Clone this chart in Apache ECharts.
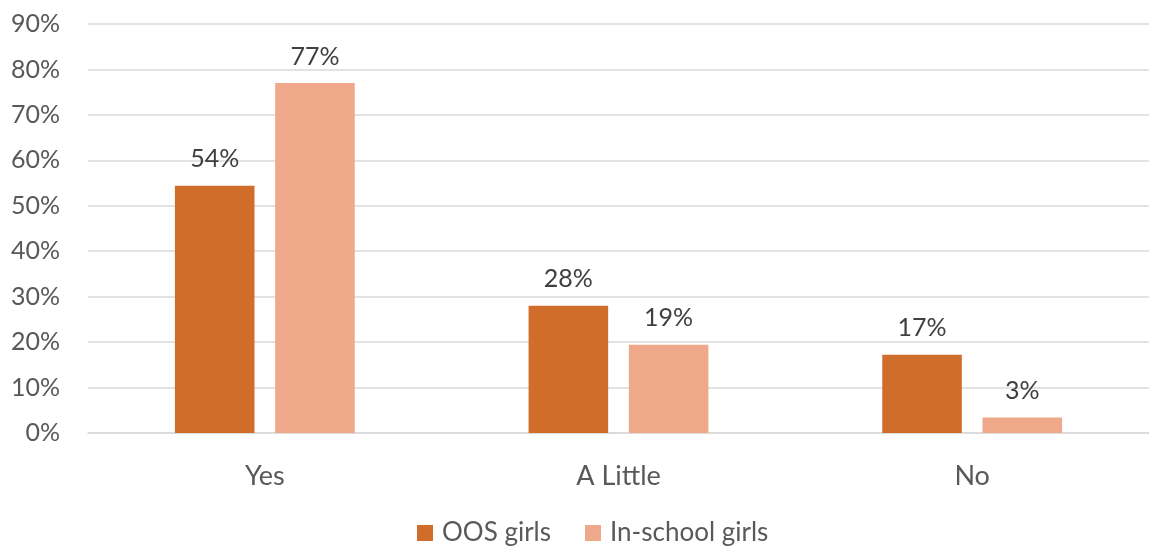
<!DOCTYPE html>
<html>
<head>
<meta charset="utf-8">
<script src="https://cdn.jsdelivr.net/npm/echarts@6/dist/echarts.min.js"></script>
<style>
  html, body { margin: 0; padding: 0; background: #fff; }
  #chart { width: 1149px; height: 548px; }
</style>
</head>
<body>
<div id="chart"></div>
<script>
const categories = ['Yes', 'A Little', 'No']
const seriesNames = ['OOS girls', 'In-school girls']
const oosValues = [0.544, 0.28, 0.172]
const inSchoolValues = [0.77, 0.194, 0.034]
const yTicks = { min: 0, max: 0.9, interval: 0.1 }

const fontFamily = 'Lato, "Open Sans", sans-serif'
const colors = ['#D16D2A', '#F0A88A']

const chart = echarts.init(document.getElementById('chart'))

const pct = v => Math.round(v * 100) + '%'

const option = {
  color: colors,
  animation: false,
  textStyle: { fontFamily: fontFamily },
  grid: {
    left: 88,
    top: 24,
    width: 1069,
    height: 409
  },
  legend: {
    top: 520,
    left: 417,
    padding: 0,
    icon: 'rect',
    itemWidth: 16,
    itemHeight: 16,
    itemGap: 34,
    textStyle: {
      color: '#595959',
      fontSize: 26,
      fontFamily: fontFamily,
      padding: [0, 0, 0, 4]
    },
    data: seriesNames
  },
  xAxis: {
    type: 'category',
    data: categories,
    axisLine: { show: true, lineStyle: { color: '#d9d9d9', width: 1.5 } },
    axisTick: { show: false },
    axisLabel: {
      color: '#595959',
      fontSize: 27,
      margin: 30,
      fontFamily: fontFamily
    }
  },
  yAxis: {
    type: 'value',
    min: yTicks.min,
    max: yTicks.max,
    interval: yTicks.interval,
    axisLine: { show: false },
    axisTick: { show: false },
    axisLabel: {
      color: '#595959',
      fontSize: 25,
      margin: 28,
      fontFamily: fontFamily,
      formatter: pct
    },
    splitLine: { lineStyle: { color: '#d9d9d9', width: 1.5 } }
  },
  series: [
    {
      name: seriesNames[0],
      type: 'bar',
      barWidth: '22.5%',
      barGap: '26%',
      data: oosValues,
      label: {
        show: true,
        position: 'top',
        distance: 14,
        color: '#404040',
        fontSize: 25,
        fontFamily: fontFamily,
        formatter: p => pct(p.value)
      }
    },
    {
      name: seriesNames[1],
      type: 'bar',
      barWidth: '22.5%',
      barGap: '26%',
      data: inSchoolValues,
      label: {
        show: true,
        position: 'top',
        distance: 14,
        color: '#404040',
        fontSize: 25,
        fontFamily: fontFamily,
        formatter: p => pct(p.value)
      }
    }
  ]
}

chart.setOption(option)
</script>
</body>
</html>
